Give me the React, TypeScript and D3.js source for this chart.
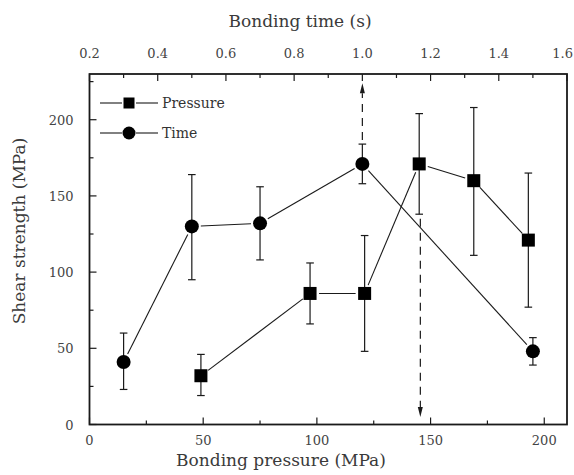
import React from 'react';
import * as d3 from 'd3';

// Pressure series (bottom axis, MPa)
const pressureX = [49, 97, 121, 145, 169, 193];
const pressureY = [32, 86, 86, 171, 160, 121];
const pressureHi = [46, 106, 124, 204, 208, 165];
const pressureLo = [19, 66, 48, 138, 111, 77];

// Time series (top axis, s)
const timeX = [0.3, 0.5, 0.7, 1.0, 1.5];
const timeY = [41, 130, 132, 171, 48];
const timeHi = [60, 164, 156, 184, 57];
const timeLo = [23, 95, 108, 158, 39];

const bottomTicks = [0, 50, 100, 150, 200];
const topTicks = [0.2, 0.4, 0.6, 0.8, 1.0, 1.2, 1.4, 1.6];
const leftTicks = [0, 50, 100, 150, 200];

// dashed guide arrows: [x value, strength from, strength to]
const timeArrow = [1.0, 184, 224];
const pressureArrow = [145.5, 137, 5];

const W = 574;
const H = 475;
const FONT = '"DejaVu Serif", serif';
const INK = '#1a1a1a';

const margin = { left: 89.5, right: 7, top: 74, bottom: 50.5 };

// pull segment ends back from markers
const trim = (x1: number, y1: number, x2: number, y2: number, g: number) => {
  const len = Math.hypot(x2 - x1, y2 - y1);
  const ux = (x2 - x1) / len;
  const uy = (y2 - y1) / len;
  return [x1 + ux * g, y1 + uy * g, x2 - ux * g, y2 - uy * g];
};

const Series = ({ xs, ys, hi, lo, sx, sy, shape }: any) => {
  const pts = xs.map((x: number, i: number) => [sx(x), sy(ys[i])]);
  return (
    <g>
      {pts.slice(1).map((p: number[], i: number) => {
        const [a, b, c, d] = trim(pts[i][0], pts[i][1], p[0], p[1], 9);
        return <line key={'l' + i} x1={a} y1={b} x2={c} y2={d} stroke={INK} strokeWidth={1.1} />;
      })}
      {pts.map((p: number[], i: number) => (
        <g key={'e' + i} stroke={INK} strokeWidth={1.2}>
          <line x1={p[0]} x2={p[0]} y1={sy(hi[i])} y2={sy(lo[i])} />
          <line x1={p[0] - 3.8} x2={p[0] + 3.8} y1={sy(hi[i])} y2={sy(hi[i])} />
          <line x1={p[0] - 3.8} x2={p[0] + 3.8} y1={sy(lo[i])} y2={sy(lo[i])} />
        </g>
      ))}
      {pts.map((p: number[], i: number) =>
        shape === 'square' ? (
          <rect key={'m' + i} x={p[0] - 6.5} y={p[1] - 6.5} width={13} height={13} fill="#000" />
        ) : (
          <circle key={'m' + i} cx={p[0]} cy={p[1]} r={7} fill="#000" />
        )
      )}
    </g>
  );
};

const Arrow = ({ x, y1, y2 }: any) => {
  const dir = y2 > y1 ? 1 : -1;
  const base = y2 - dir * 10;
  return (
    <g>
      <line x1={x} x2={x} y1={y1} y2={base} stroke={INK} strokeWidth={1.2} strokeDasharray="8,6" />
      <path d={`M${x - 2.5},${base}L${x + 2.5},${base}L${x},${y2}Z`} fill={INK} />
    </g>
  );
};

export default function App() {
  const x0 = margin.left;
  const x1 = W - margin.right;
  const y0 = H - margin.bottom;
  const y1 = margin.top;

  const xP = d3.scaleLinear().domain([0, 210]).range([x0, x1]);
  const xT = d3.scaleLinear().domain([0.2, 1.6]).range([x0, x1]);
  const y = d3.scaleLinear().domain([0, 230]).range([y0, y1]);

  const bottomMinor = d3.range(25, 210, 50);
  const topMinor = d3.range(0.3, 1.6, 0.2);
  const leftMinor = d3.range(25, 230, 50);

  return (
    <svg width={W} height={H} style={{ position: 'absolute', left: 0, top: 0, background: '#fff' }}>
      {/* ticks */}
      <g stroke={INK} strokeWidth={1.2}>
        {bottomTicks.map((t) => (
          <line key={'b' + t} x1={xP(t)} x2={xP(t)} y1={y0} y2={y0 - 7} />
        ))}
        {bottomMinor.map((t) => (
          <line key={'bm' + t} x1={xP(t)} x2={xP(t)} y1={y0} y2={y0 - 4} />
        ))}
        {topTicks.map((t) => (
          <line key={'t' + t} x1={xT(t)} x2={xT(t)} y1={y1} y2={y1 + 7} />
        ))}
        {topMinor.map((t) => (
          <line key={'tm' + t} x1={xT(t)} x2={xT(t)} y1={y1} y2={y1 + 4} />
        ))}
        {leftTicks.map((t) => (
          <line key={'y' + t} x1={x0} x2={x0 + 7} y1={y(t)} y2={y(t)} />
        ))}
        {leftMinor.map((t) => (
          <line key={'ym' + t} x1={x0} x2={x0 + 4} y1={y(t)} y2={y(t)} />
        ))}
      </g>
      <rect x={x0} y={y1} width={x1 - x0} height={y0 - y1} fill="none" stroke={INK} strokeWidth={1.8} />

      {/* tick labels */}
      <g fontFamily={FONT} fontSize={13} fill="#444">
        {bottomTicks.map((t) => (
          <text key={'bl' + t} x={xP(t)} y={y0 + 20} textAnchor="middle">{t}</text>
        ))}
        {topTicks.map((t, i) => (
          <text
            key={'tl' + t}
            x={i === topTicks.length - 1 ? W - 1 : xT(t)}
            y={y1 - 16}
            textAnchor={i === topTicks.length - 1 ? 'end' : 'middle'}
          >
            {t.toFixed(1)}
          </text>
        ))}
        {leftTicks.map((t) => (
          <text key={'ll' + t} x={x0 - 16} y={y(t) + 5} textAnchor="end">{t}</text>
        ))}
      </g>

      {/* axis titles */}
      <g fontFamily={FONT} fontSize={17} fill="#3a3a3a">
        <text x={281} y={H - 9} textAnchor="middle">Bonding pressure (MPa)</text>
        <text x={300} y={27} textAnchor="middle">Bonding time (s)</text>
        <text transform={`translate(25,231) rotate(-90)`} textAnchor="middle">Shear strength (MPa)</text>
      </g>

      <Series xs={timeX} ys={timeY} hi={timeHi} lo={timeLo} sx={xT} sy={y} shape="circle" />
      <Series xs={pressureX} ys={pressureY} hi={pressureHi} lo={pressureLo} sx={xP} sy={y} shape="square" />

      <Arrow x={xT(timeArrow[0])} y1={y(timeArrow[1]) - 4} y2={y(timeArrow[2])} />
      <Arrow x={xP(pressureArrow[0])} y1={y(pressureArrow[1]) + 3} y2={y(pressureArrow[2])} />

      {/* legend */}
      <g stroke={INK} strokeWidth={1.1}>
        <line x1={100} x2={122} y1={103} y2={103} />
        <line x1={136} x2={158} y1={103} y2={103} />
        <line x1={100} x2={122} y1={133} y2={133} />
        <line x1={136} x2={158} y1={133} y2={133} />
      </g>
      <rect x={129 - 5.5} y={103 - 5.5} width={11} height={11} fill="#000" />
      <circle cx={129} cy={133} r={6.5} fill="#000" />
      <g fontFamily={FONT} fontSize={14} fill="#333">
        <text x={162} y={108}>Pressure</text>
        <text x={162} y={138}>Time</text>
      </g>
    </svg>
  );
}
